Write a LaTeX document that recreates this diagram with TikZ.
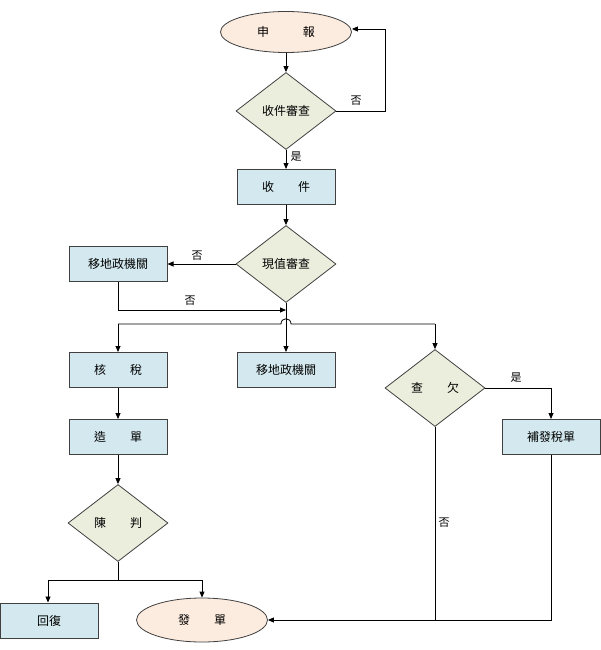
\documentclass[tikz,border=0pt]{standalone}
\usepackage{fontspec}
\newfontfamily\cjk{Noto Sans CJK TC}
\usetikzlibrary{shapes.geometric,arrows.meta}
\definecolor{ellfill}{HTML}{FCEBDF}
\definecolor{diafill}{HTML}{EBEEDD}
\definecolor{boxfill}{HTML}{D4E9EF}
\definecolor{edge}{HTML}{404040}
\begin{document}
\begin{tikzpicture}[x=1pt,y=-1pt,
  font=\cjk\fontsize{12}{14}\selectfont,
  line width=0.8pt,
  conn/.style={draw=black, -{Triangle[length=6pt,width=5pt]}},
  plain/.style={draw=black},
  box/.style={draw=edge, line width=1pt, fill=boxfill, minimum width=98pt, minimum height=35pt, inner sep=0pt},
  oval/.style={ellipse, draw=edge, fill=ellfill, minimum width=131pt, minimum height=41pt, inner sep=0pt},
  dia/.style={diamond, draw=edge, fill=diafill, minimum width=100pt, minimum height=77pt, inner sep=0pt},
  lbl/.style={font=\cjk\fontsize{11}{13}\selectfont, inner sep=1pt}]
\useasboundingbox (0,0) rectangle (600,650);

\node[oval] (shenbao) at (286,32) {申\hspace{2.8em}報};
\node[dia] (shencha) at (286,111) {收件審查};
\node[box] (shoujian) at (286,187) {收\hspace{2em}件};
\node[dia] (xianzhi) at (286,264) {現值審查};
\node[box] (yidi1) at (118,264) {移地政機關};
\node[box] (heshui) at (118,370) {核\hspace{2em}稅};
\node[box] (yidi2) at (286,370) {移地政機關};
\node[dia] (chaqian) at (435,388) {查\hspace{2em}欠};
\node[box] (bufa) at (551,437) {補發稅單};
\node[box] (zaodan) at (118,437) {造\hspace{2em}單};
\node[dia] (chenpan) at (118,523) {陳\hspace{2em}判};
\node[box] (huifu) at (49,620.5) {回復};
\node[oval, minimum height=44pt] (fadan) at (202,620) {發\hspace{2em}單};

% top loop
\draw[conn] (shenbao) -- (shencha);
\coordinate (loopA) at (385,111);
\coordinate (loopB) at (385,29);
\draw[conn] (shencha.east) -- (loopA) -- (loopB) -- (shenbao.east |- loopB);
\node[lbl] (no1) at (356,101) {否};
\draw[conn] (shencha) -- (shoujian);
\node[lbl] (yes1) at (296,157) {是};
\draw[conn] (shoujian) -- (xianzhi);

% xianzhi
\draw[conn] (xianzhi.west) -- (yidi1.east);
\node[lbl] (no2) at (197,256) {否};
\coordinate (yd1b) at (118,310);
\draw[conn] (yidi1.south) -- (yd1b) -- (286,310);
\node[lbl] (no3) at (190,301) {否};
\draw[conn] (xianzhi.south) -- (yidi2.north);

% branch with hop
\coordinate (brL) at (118,324);
\coordinate (brR) at (435,324);
\draw[plain] (brL) -- (281,324) .. controls (281,317) and (291,317) .. (291,324) -- (brR);
\draw[conn] (brL) -- (heshui.north);
\draw[conn] (brR) -- (chaqian.north);

% chaqian
\coordinate (cqR) at (551,388);
\draw[conn] (chaqian.east) -- (cqR) -- (bufa.north);
\node[lbl] (yes2) at (516,378) {是};
\coordinate (cqB) at (435,620);
\draw[plain] (chaqian.south) -- (cqB);
\node[lbl] (no4) at (444,523) {否};
\coordinate (bfB) at (551,620);
\draw[conn] (bufa.south) -- (bfB) -- (fadan.east);

% left column
\draw[conn] (heshui) -- (zaodan);
\draw[conn] (zaodan) -- (chenpan);
\coordinate (cpB) at (118,580);
\coordinate (cpL) at (48,580);
\coordinate (cpR) at (202,580);
\draw[plain] (chenpan.south) -- (cpB);
\draw[conn] (cpB) -- (cpL) -- (huifu.north -| cpL);
\draw[conn] (cpB) -- (cpR) -- (fadan.north);
\end{tikzpicture}
\end{document}
